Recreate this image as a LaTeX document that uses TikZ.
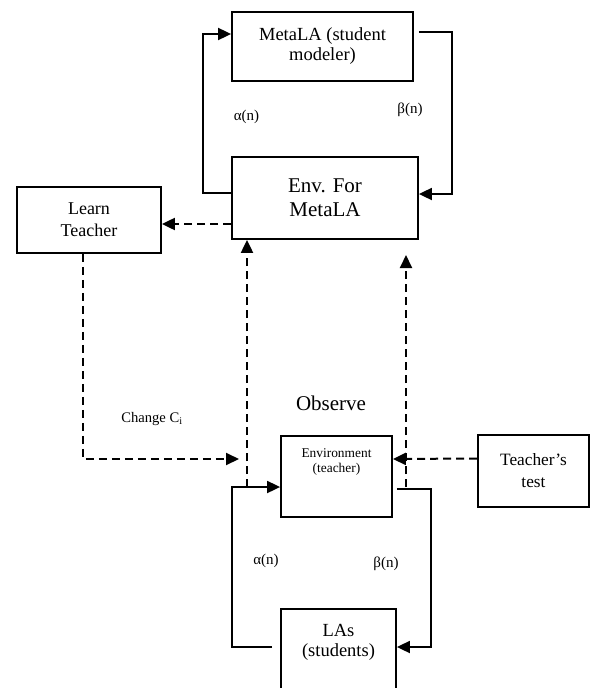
\documentclass[tikz,border=0pt]{standalone}
\usepackage{fontspec}
\setmainfont{Liberation Serif}
\usetikzlibrary{arrows.meta}
\begin{document}
\begin{tikzpicture}[x=1pt,y=-1pt,
  box/.style={draw,line width=1.8pt,inner sep=0pt,align=center},
  conn/.style={line width=1.8pt,-{Triangle[length=13pt,width=12pt]}},
  dconn/.style={line width=2pt,dash pattern=on 8pt off 5pt,-{Triangle[length=13pt,width=12pt]}},
  lbl/.style={inner sep=0pt,align=center}]
\useasboundingbox (0,0) rectangle (589,688);
% boxes
\node[box,minimum width=181pt,minimum height=69pt,font=\fontsize{18.5}{20}\selectfont] (meta) at (322.5,46.5) {MetaLA (student\\modeler)};
\node[box,minimum width=186pt,minimum height=82pt,font=\fontsize{21}{24}\selectfont] (env) at (325,198) {Env. For\\MetaLA};
\node[box,minimum width=144pt,minimum height=66pt,font=\fontsize{18}{22}\selectfont] (learn) at (89,220) {Learn\\Teacher};
\node[box,minimum width=111pt,minimum height=81pt] (envt) at (336.5,476.5) {};
\node[lbl,font=\fontsize{13.4}{15}\selectfont] (envttext) at (336.5,462) {Environment\\(teacher)};
\node[box,minimum width=111pt,minimum height=72pt,font=\fontsize{17.3}{22}\selectfont] (test) at (533.5,471) {Teacher's\\test};
\node[box,minimum width=115pt,minimum height=84pt] (las) at (338.5,651) {};
\node[lbl,font=\fontsize{18.5}{20}\selectfont] (lastext) at (338.5,642) {LAs\\(students)};
% labels
\node[lbl,font=\fontsize{15}{17}\selectfont] (a1) at (246.5,117) {α(n)};
\node[lbl,font=\fontsize{15}{17}\selectfont] (b1) at (410,110) {β(n)};
\node[lbl,font=\fontsize{15}{17}\selectfont] (a2) at (266,561) {α(n)};
\node[lbl,font=\fontsize{15}{17}\selectfont] (b2) at (386,564) {β(n)};
\node[lbl,font=\fontsize{14.6}{17}\selectfont] (chg) at (152,419) {Change C\textsubscript{i}};
\node[lbl,font=\fontsize{21}{24}\selectfont] (obs) at (331,403) {Observe};
% coordinates
\coordinate (tl) at (203,193);
\coordinate (tr) at (452,32);
\coordinate (lt) at (83,459);
\coordinate (ltend) at (239,459);
\coordinate (jl) at (247,487);
\coordinate (jr) at (406,487);
\coordinate (jrtip) at (406,255);
\coordinate (bl) at (232,647);
\coordinate (br) at (431,489);
% top loop
\draw[conn] ([yshift=5pt]env.west) -- (tl) -- (tl |- 0,34) -- ([yshift=12.5pt]meta.west);
\draw[conn] ([xshift=5pt,yshift=14.5pt]meta.east) -- (tr) -- (tr |- 0,194) -- ([yshift=4pt]env.east);
% dashed
\draw[dconn] ([yshift=-26pt]env.west) -- ([yshift=-4pt]learn.east);
\draw[dconn] ([xshift=-6pt]learn.south) -- (lt) -- (ltend);
\draw[dconn] (jl) -- (jl |- env.south);
\draw[dconn] (jr) -- (jrtip);
\draw[dconn] ([yshift=12.5pt]test.west) -- ([yshift=17.5pt]envt.east);
% bottom loop
\draw[conn] ([xshift=-8pt,yshift=4pt]las.west) -- (bl) -- (bl |- 0,487) -- ([yshift=-10.5pt]envt.west);
\draw[conn] ([xshift=4pt,yshift=-12.5pt]envt.east) -- (br) -- (br |- 0,647) -- ([yshift=4pt]las.east);
\end{tikzpicture}
\end{document}
